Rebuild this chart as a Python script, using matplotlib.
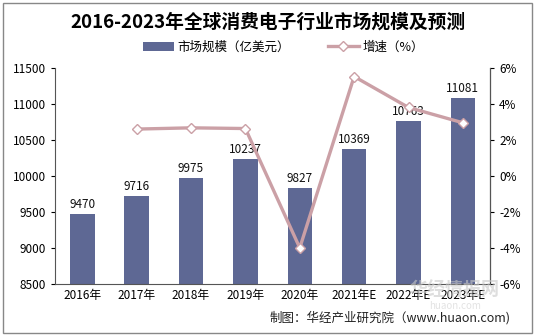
import numpy as np
import matplotlib.pyplot as plt
from matplotlib.patches import Rectangle
from matplotlib.ticker import FuncFormatter

plt.rcParams['font.family'] = ['Noto Sans CJK SC', 'DejaVu Sans']

YEARS = ["2016年", "2017年", "2018年", "2019年", "2020年", "2021年E", "2022年E", "2023年E"]
MARKET_SIZE = [9470, 9716, 9975, 10237, 9827, 10369, 10763, 11081]
GROWTH = [None, 2.60, 2.67, 2.63, -4.00, 5.52, 3.80, 2.95]

BAR_COLOR = "#5E6894"
LINE_COLOR = "#CBA0A6"

fig = plt.figure(figsize=(5.35, 3.36), dpi=100)
ax = fig.add_axes([0.103, 0.155, 0.813, 0.643])

x = np.arange(len(YEARS))
bars = ax.bar(x, MARKET_SIZE, width=0.45, color=BAR_COLOR, zorder=2)
for xi, v in zip(x, MARKET_SIZE):
    ax.text(xi, v + 40, str(v), ha="center", va="bottom", fontsize=8.5, color="#111111")

ax.set_ylim(8500, 11500)
ax.set_yticks(range(8500, 11501, 500))
ax.set_xlim(-0.5, len(YEARS) - 0.5)
ax.set_xticks(x)
ax.set_xticklabels(YEARS, fontsize=8.5)
ax.tick_params(axis="y", labelsize=8.5, length=3, direction="out")
ax.tick_params(axis="x", length=0, pad=4)
ax.spines["top"].set_visible(False)
for side in ["left", "bottom"]:
    ax.spines[side].set_color("#555555")

ax2 = ax.twinx()
gx = [xi for xi, g in zip(x, GROWTH) if g is not None]
gy = [g for g in GROWTH if g is not None]
ax2.plot(gx, gy, color=LINE_COLOR, lw=2.4, marker="D", markersize=5,
         markerfacecolor="white", markeredgecolor=LINE_COLOR, markeredgewidth=1,
         zorder=3)
ax2.set_ylim(-6, 6)
ax2.set_yticks(range(-6, 7, 2))
ax2.yaxis.set_major_formatter(FuncFormatter(lambda v, _: f"{v:.0f}%"))
ax2.tick_params(axis="y", labelsize=8.5, length=3, direction="out")
ax2.spines["top"].set_visible(False)
ax2.spines["right"].set_color("#555555")
ax2.spines["left"].set_visible(False)
ax2.spines["bottom"].set_visible(False)

fig.text(0.5, 0.935, "2016-2023年全球消费电子行业市场规模及预测", ha="center", va="center",
         fontsize=13.5, fontweight="bold")

handles = [bars, ax2.get_lines()[0]]
fig.legend(handles, ["市场规模（亿美元）", "增速（%）"], loc="center", bbox_to_anchor=(0.53, 0.86),
           ncol=2, frameon=False, fontsize=9, handlelength=2.5, columnspacing=3,
           handletextpad=0.3)

# watermark
fig.text(0.85, 0.135, "华经情报网", ha="center", va="center", fontsize=13,
         color="#c8c8c8", alpha=0.6, fontweight="bold", zorder=0)
fig.text(0.85, 0.09, "huaon.com", ha="center", va="center", fontsize=7,
         color="#d0d0d0", alpha=0.6, zorder=0)

fig.text(0.955, 0.055, "制图：华经产业研究院（www.huaon.com)", ha="right", va="center",
         fontsize=9, color="#222222")

fig.patches.append(Rectangle((0.006, 0.01), 0.988, 0.98, transform=fig.transFigure,
                             fill=False, edgecolor="#888888", lw=1))

fig.savefig("out.png", dpi=100)
